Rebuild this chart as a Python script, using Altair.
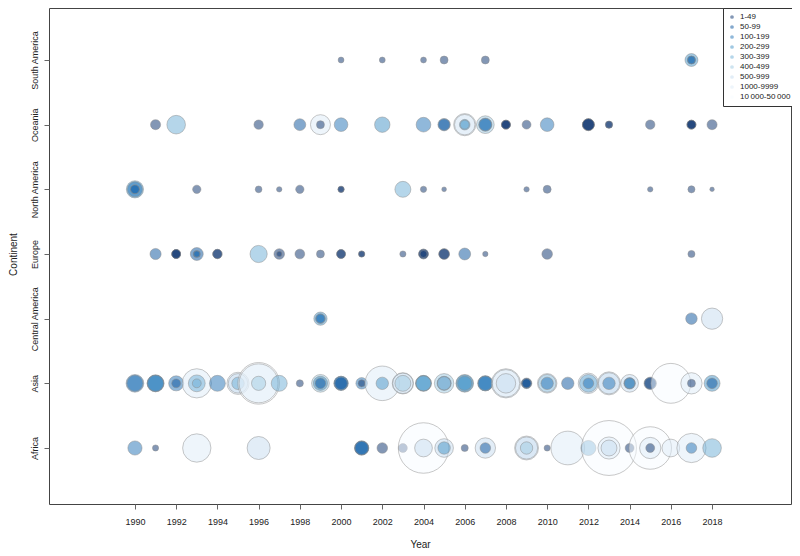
import altair as alt
import pandas as pd

# Category (colour) order and palette
CATS = ["1-49", "50-99", "100-199", "200-299", "300-399", "400-499",
        "500-999", "1000-9999", "10\u2009000-50\u2009000"]
COLORS = ["#08306b", "#08519c", "#2171b5", "#4292c6", "#6baed6", "#9ecae1",
          "#c6dbef", "#deebf7", "#f7fbff"]
BIG = CATS[8]

CONTINENTS = ["South America", "Oceania", "North America", "Europe",
              "Central America", "Asia", "Africa"]
YEAR_TICKS = list(range(1990, 2019, 2))

# (year, magnitude, death category)
AFRICA = [
    (1990, 20.4, "100-199"), (1991, 3.9, "1-49"), (1993, 81.4, "1000-9999"),
    (1996, 53.7, "500-999"),
    (2001, 20.4, "50-99"), (2001, 20.4, "50-99"), (2001, 17.9, "100-199"),
    (2002, 11.4, "1-49"), (2003, 8.0, "1-49"),
    (2004, 258.0, BIG), (2004, 31.8, "500-999"),
    (2005, 35.1, "500-999"), (2005, 15.6, "200-299"),
    (2006, 5.1, "1-49"),
    (2007, 42.1, "500-999"), (2007, 11.4, "50-99"),
    (2009, 58.0, "1000-9999"), (2009, 49.7, "500-999"), (2009, 15.6, "400-499"),
    (2010, 3.9, "1-49"), (2011, 114.8, "1000-9999"), (2012, 23.0, "200-299"),
    (2013, 305.6, BIG), (2013, 49.7, "1000-9999"), (2013, 25.8, "500-999"),
    (2014, 8.0, "1-49"),
    (2015, 183.2, BIG), (2015, 45.8, "1000-9999"), (2015, 8.0, "1-49"),
    (2016, 31.8, "1000-9999"),
    (2017, 86.6, "1000-9999"), (2017, 11.4, "100-199"),
    (2018, 35.1, "300-399"),
]
ASIA = [
    (1990, 31.8, "100-199"), (1990, 25.8, "100-199"),
    (1991, 28.7, "100-199"), (1991, 28.7, "100-199"), (1991, 25.8, "200-299"),
    (1992, 23.0, "100-199"), (1992, 8.0, "50-99"),
    (1993, 86.6, "1000-9999"), (1993, 28.7, "300-399"), (1993, 8.0, "300-399"),
    (1994, 25.8, "100-199"),
    (1995, 49.7, "1000-9999"), (1995, 38.5, "500-999"), (1995, 15.6, "300-399"),
    (1996, 175.6, BIG), (1996, 153.9, "1000-9999"), (1996, 20.4, "400-499"),
    (1997, 25.8, "300-399"), (1998, 5.1, "1-49"),
    (1999, 31.8, "400-499"), (1999, 20.4, "200-299"), (1999, 11.4, "50-99"),
    (2000, 20.4, "50-99"), (2000, 20.4, "100-199"), (2000, 15.6, "50-99"),
    (2001, 13.4, "100-199"), (2001, 5.1, "1-49"),
    (2002, 120.9, "1000-9999"), (2002, 15.6, "200-299"),
    (2003, 45.8, "500-999"), (2003, 42.1, "1000-9999"), (2003, 25.8, "400-499"),
    (2004, 25.8, "200-299"), (2004, 24.1, "200-299"), (2004, 23.0, "300-399"),
    (2005, 38.5, "400-499"), (2005, 20.4, "100-199"), (2005, 17.9, "400-499"),
    (2006, 31.8, "300-399"), (2006, 28.7, "200-299"), (2006, 20.4, "200-299"),
    (2007, 23.0, "100-199"), (2007, 23.0, "200-299"), (2007, 20.4, "100-199"),
    (2008, 86.6, "1000-9999"), (2008, 76.4, "1000-9999"), (2008, 38.5, "500-999"),
    (2009, 11.4, "50-99"), (2009, 9.6, "1-49"), (2009, 8.0, "50-99"),
    (2010, 38.5, "500-999"), (2010, 31.8, "400-499"), (2010, 15.6, "100-199"),
    (2011, 15.6, "50-99"),
    (2012, 42.1, "500-999"), (2012, 31.8, "300-399"), (2012, 11.4, "100-199"),
    (2013, 53.7, "1000-9999"), (2013, 45.8, "500-999"), (2013, 15.6, "100-199"),
    (2014, 31.8, "500-999"), (2014, 13.4, "50-99"), (2014, 11.4, "200-299"),
    (2015, 15.6, "50-99"), (2015, 13.4, "1-49"),
    (2016, 161.0, BIG),
    (2017, 45.8, "1000-9999"), (2017, 6.4, "1-49"),
    (2018, 25.8, "200-299"), (2018, 11.4, "50-99"),
]
CENTRAL_AMERICA = [
    (1999, 17.9, "200-299"), (1999, 9.6, "100-199"), (1999, 8.0, "100-199"),
    (2017, 13.4, "50-99"), (2018, 45.8, "500-999"),
]
EUROPE = [
    (1991, 12.6, "50-99"),
    (1992, 8.0, "1-49"), (1992, 8.0, "1-49"), (1992, 8.0, "1-49"),
    (1993, 16.9, "50-99"), (1993, 5.1, "50-99"), (1993, 3.9, "100-199"),
    (1994, 8.9, "1-49"), (1994, 8.9, "1-49"),
    (1996, 29.9, "300-399"),
    (1997, 11.4, "1-49"), (1997, 2.9, "1-49"),
    (1998, 9.6, "1-49"), (1999, 6.4, "1-49"),
    (2000, 8.0, "1-49"), (2000, 8.0, "1-49"),
    (2001, 3.9, "1-49"), (2001, 3.9, "1-49"),
    (2003, 3.9, "1-49"),
    (2004, 9.6, "1-49"), (2004, 9.6, "1-49"), (2004, 5.1, "1-49"),
    (2005, 11.4, "1-49"), (2005, 11.4, "1-49"),
    (2006, 14.3, "50-99"), (2007, 2.9, "1-49"), (2010, 11.4, "1-49"),
    (2017, 5.1, "1-49"),
]
NORTH_AMERICA = [
    (1990, 29.9, "200-299"), (1990, 23.0, "100-199"), (1990, 8.0, "50-99"),
    (1990, 8.0, "100-199"),
    (1993, 7.0, "1-49"), (1996, 4.6, "1-49"), (1997, 2.9, "1-49"),
    (1998, 7.0, "1-49"), (2000, 3.9, "1-49"), (2000, 3.9, "1-49"),
    (2003, 25.8, "300-399"), (2004, 3.9, "1-49"), (2005, 2.3, "1-49"),
    (2009, 2.9, "1-49"), (2010, 6.4, "1-49"), (2015, 2.9, "1-49"),
    (2017, 5.1, "1-49"), (2018, 2.0, "1-49"),
]
OCEANIA = [
    (1991, 10.3, "1-49"), (1992, 35.1, "300-399"), (1996, 8.9, "1-49"),
    (1998, 14.3, "50-99"),
    (1999, 40.6, "1000-9999"), (1999, 6.4, "1-49"),
    (2000, 18.9, "100-199"), (2002, 24.1, "200-299"), (2004, 21.9, "100-199"),
    (2005, 15.6, "100-199"), (2005, 13.4, "50-99"),
    (2006, 49.7, "1000-9999"), (2006, 42.1, "1000-9999"),
    (2006, 11.4, "200-299"), (2006, 8.0, "300-399"),
    (2007, 31.8, "400-499"), (2007, 17.9, "100-199"), (2007, 15.6, "100-199"),
    (2008, 8.0, "1-49"), (2008, 8.0, "1-49"), (2008, 8.0, "1-49"),
    (2009, 8.0, "1-49"), (2010, 18.9, "100-199"),
    (2012, 14.3, "1-49"), (2012, 14.3, "1-49"), (2012, 14.3, "1-49"),
    (2013, 5.1, "1-49"), (2013, 5.1, "1-49"),
    (2015, 8.9, "1-49"),
    (2017, 8.0, "1-49"), (2017, 8.0, "1-49"), (2017, 8.0, "1-49"),
    (2018, 10.3, "1-49"),
]
SOUTH_AMERICA = [
    (2000, 3.5, "1-49"), (2002, 3.5, "1-49"), (2004, 3.5, "1-49"),
    (2005, 6.4, "1-49"), (2007, 6.4, "1-49"),
    (2017, 16.9, "200-299"), (2017, 6.4, "50-99"), (2017, 6.4, "100-199"),
]

rows = []
for name, events in [("Africa", AFRICA), ("Asia", ASIA),
                     ("Central America", CENTRAL_AMERICA), ("Europe", EUROPE),
                     ("North America", NORTH_AMERICA), ("Oceania", OCEANIA),
                     ("South America", SOUTH_AMERICA)]:
    for yr, mag, cat in events:
        rows.append({"Continent": name, "Year": yr, "Magnitude": mag, "Deaths": cat})
df = pd.DataFrame(rows).sort_values(["Year"], kind="stable").reset_index(drop=True)

FONT = "Liberation Sans"

chart = alt.Chart(df).mark_circle(
    fillOpacity=0.5, stroke="#8c8c8c", strokeWidth=0.8, strokeOpacity=0.6
).encode(
    x=alt.X("Year:Q",
            scale=alt.Scale(domain=[1985.83, 2021.83], nice=False, zero=False),
            axis=alt.Axis(values=YEAR_TICKS, format="d", title="Year",
                          tickSize=5, labelPadding=8, titlePadding=13)),
    y=alt.Y("Continent:N",
            scale=alt.Scale(domain=CONTINENTS, range=[52, 440], padding=0),
            axis=alt.Axis(title="Continent", labelAngle=270, labelAlign="center",
                          labelBaseline="bottom", tickSize=5, labelPadding=5,
                          titlePadding=12)),
    size=alt.Size("Magnitude:Q",
                  scale=alt.Scale(type="linear", domain=[0, 1000], range=[0, 9870]),
                  legend=None),
    color=alt.Color("Deaths:N",
                    scale=alt.Scale(domain=CATS, range=COLORS),
                    legend=alt.Legend(title=None, orient="none", legendX=674, legendY=0,
                                      strokeColor="#333333", fillColor="white",
                                      padding=5, labelFontSize=8, labelFont=FONT,
                                      labelColor="#222222",
                                      symbolType="circle", symbolSize=14,
                                      symbolOpacity=0.5, symbolStrokeWidth=0,
                                      rowPadding=2, labelLimit=200)),
).properties(
    width=742, height=496,
    autosize=alt.AutoSizeParams(type="none"),
    padding={"left": 41, "top": 0, "right": 1, "bottom": 44},
).configure_view(
    stroke="#444444", strokeWidth=1
).configure_axis(
    grid=False, domain=False, labelFont=FONT, titleFont=FONT,
    labelFontSize=9, titleFontSize=10, titleFontWeight="normal",
    labelColor="#222222", titleColor="#222222", tickColor="#666666"
)

chart.save("out.html", embed_options={"renderer": "svg", "actions": False})
